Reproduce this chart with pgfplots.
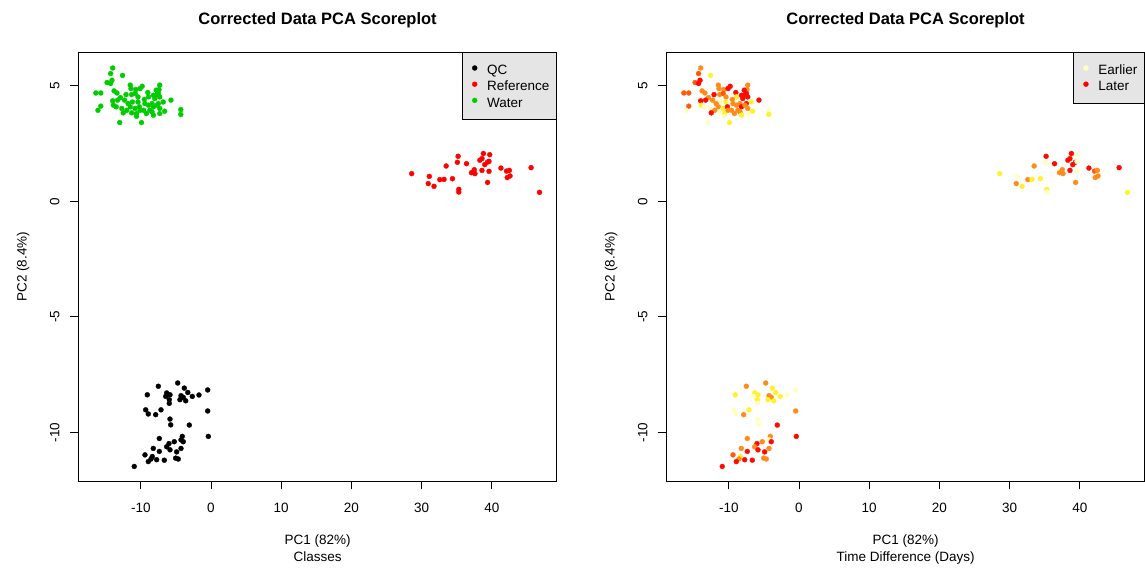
\documentclass[border=0pt]{standalone}
\usepackage{pgfplots}
\pgfplotsset{compat=1.18}
\usepackage{pgfplotstable}
\usepackage{fontspec}
\setmainfont{Liberation Sans}
\definecolor{rgreen}{HTML}{00CD00}
\definecolor{rred}{HTML}{FF0000}
\definecolor{legbg}{HTML}{E5E5E5}
\definecolor{ca}{HTML}{FFFFC4}
\definecolor{cb}{HTML}{FFF22E}
\definecolor{cc}{HTML}{FF8C1A}
\definecolor{cd}{HTML}{FF5A0A}
\definecolor{ce}{HTML}{FF0A00}
\newcommand\fsz{\fontsize{13.5bp}{16.5bp}\selectfont}

\pgfplotstableread{
x y c
-14.0 5.77 c
-14.3 5.53 d
-12.6 5.45 b
-14.8 5.14 d
-14.3 5.10 e
-14.1 5.24 e
-16.4 4.69 d
-15.7 4.69 d
-13.8 4.78 c
-13.4 4.69 c
-11.5 5.03 c
-11.4 4.88 c
-10.7 4.84 c
-10.1 4.88 e
-9.8 4.98 e
-7.3 5.03 c
-7.4 4.84 c
-7.8 4.81 e
-9.0 4.71 e
-12.1 4.62 e
-12.9 4.49 c
-11.3 4.62 c
-10.8 4.67 d
-10.4 4.52 c
-8.9 4.52 b
-8.2 4.59 e
-7.7 4.62 e
-7.3 4.52 e
-8.0 4.45 e
-14.0 4.35 e
-13.3 4.38 e
-5.7 4.38 e
-6.8 4.30 b
-7.5 4.23 e
-8.4 4.23 c
-9.4 4.23 c
-10.4 4.30 b
-11.2 4.30 a
-11.8 4.23 c
-12.3 4.38 c
-13.9 4.16 b
-13.5 4.09 a
-15.7 4.12 d
-16.1 3.94 a
-12.7 4.02 a
-12.0 3.94 c
-11.5 4.09 c
-10.8 4.02 b
-10.2 4.09 e
-9.6 3.94 c
-8.9 4.16 c
-8.2 4.09 e
-7.7 4.16 c
-7.3 4.02 c
-6.6 3.90 b
-8.4 3.87 c
-9.2 3.80 c
-10.6 3.80 b
-11.3 3.83 a
-12.5 3.83 e
-8.2 3.73 b
-7.3 3.80 a
-10.6 3.68 a
-4.3 3.97 a
-4.3 3.76 b
-13.0 3.41 a
-9.9 3.41 b
-10.1 3.94 c
-9.5 4.41 c
-8.7 3.94 c
-7.5 4.67 e
}\water

\pgfplotstableread{
x y c
-4.74 -7.86 c
-7.5 -8.0 c
-3.8 -8.08 b
-3.3 -8.27 b
-2.66 -8.44 b
-1.71 -8.38 a
-0.47 -8.16 a
-6.31 -8.29 b
-5.84 -8.37 b
-6.45 -8.44 a
-4.27 -8.41 c
-3.95 -8.48 c
-4.42 -8.58 b
-3.6 -8.63 b
-5.94 -8.58 b
-5.94 -8.74 a
-9.07 -8.37 b
-9.3 -9.02 a
-8.93 -9.20 a
-7.88 -9.23 c
-7.12 -9.02 b
-0.47 -9.07 c
-5.84 -9.42 a
-5.74 -9.67 a
-3.09 -9.68 e
-0.38 -10.17 e
-7.36 -10.26 c
-4.09 -10.17 c
-4.27 -10.32 a
-3.95 -10.4 e
-5.23 -10.4 c
-5.98 -10.48 e
-6.31 -10.62 c
-5.84 -10.75 e
-4.27 -10.69 c
-4.89 -10.84 e
-8.22 -10.69 c
-7.36 -10.82 e
-9.4 -10.97 d
-8.36 -11.04 b
-8.55 -11.15 c
-8.93 -11.26 e
-7.74 -11.18 e
-6.65 -11.2 e
-5.03 -11.11 c
-4.66 -11.15 c
-10.93 -11.47 e
}\qc

\pgfplotstableread{
x y c
28.59 1.20 b
31.1 1.08 a
30.95 0.77 c
31.77 0.65 b
32.6 0.94 c
33.2 0.95 b
33.5 1.53 c
34.4 0.98 b
35.2 1.95 e
35.1 1.69 a
35.3 0.52 b
35.3 0.40 a
36.4 1.63 e
37.1 1.24 c
37.5 1.37 c
37.6 1.20 c
38.3 1.78 e
38.6 1.85 e
38.8 2.07 e
38.6 1.34 e
39.0 1.59 e
39.4 1.70 e
39.6 1.73 a
39.7 2.02 a
39.6 1.30 a
39.4 0.82 c
41.3 1.44 e
42.1 1.31 d
42.5 1.34 c
42.2 1.03 c
42.6 1.10 c
45.6 1.46 e
46.8 0.39 b
}\refd

\pgfplotsset{
  rstyle/.style={
    scale only axis, width=478.5bp, height=428.7bp,
    xmin=-18.9, xmax=49.26, ymin=-12.1, ymax=6.45,
    axis line style={line width=0.9bp, black},
    every tick/.style={line width=0.9bp, black},
    tick align=outside, major tick length=8.3bp, tick pos=left,
    xtick={-10,0,10,20,30,40}, xticklabels={-10,0,10,20,30,40},
    ytick={-10,-5,0,5}, yticklabels={-10,-5,0,5},
    xticklabel style={font=\fsz, anchor=base, inner sep=0pt},
    xticklabel shift=23.4bp,
    yticklabel style={font=\fsz, rotate=90, anchor=base, inner sep=0pt},
    yticklabel shift=10.7bp,
    every axis title/.style={at={(axis description cs:0.5,1)}, anchor=base, yshift=27.3bp,
      font=\bfseries\fontsize{16.5bp}{18bp}\selectfont},
    every axis x label/.style={at={(axis description cs:0.5,0)}, anchor=north, inner sep=0pt,
      align=center, yshift=-53.6bp, font=\fsz},
    every axis y label/.style={at={(axis description cs:-0.1078,0.5)}, rotate=90, anchor=base,
      inner sep=0pt, font=\fsz},
    title={Corrected Data PCA Scoreplot},
    ylabel={PC2 (8.4\%)},
    mark size=2.5bp,
    legend cell align=left,
    legend image code/.code={\path (0bp,0bp) (10bp,0bp);
      \draw[mark repeat=2,mark phase=2,#1] plot coordinates {(0bp,1.8bp) (5bp,1.8bp) (10bp,1.8bp)};},
    legend style={at={(1,1)}, anchor=north east, draw=black, line width=0.8bp, fill=legbg,
      inner xsep=7bp, inner ysep=9bp, font=\fsz, row sep=0pt,
      nodes={inner sep=0pt, text height=13bp, text depth=3.2bp},
      /tikz/every odd column/.append style={column sep=7bp}},
  }
}

\begin{document}
\begin{tikzpicture}
\path[use as bounding box] (0,0) rectangle (1145bp,570bp);
\clip (0,0) rectangle (1145bp,570bp);
\begin{axis}[rstyle, at={(78.3bp,89bp)}, anchor=south west,
  xlabel={PC1 (82\%)\\Classes}]
\addplot[only marks, mark=*, black, mark options={line width=0.3bp}] table[x=x,y=y]{\qc};
\addlegendentry{QC}
\addplot[only marks, mark=*, rred, mark options={line width=0.3bp}] table[x=x,y=y]{\refd};
\addlegendentry{Reference}
\addplot[only marks, mark=*, rgreen, mark options={line width=0.3bp}] table[x=x,y=y]{\water};
\addlegendentry{Water}
\end{axis}
\begin{axis}[rstyle, at={(666.3bp,89bp)}, anchor=south west,
  xlabel={PC1 (82\%)\\Time Difference (Days)}]
\addlegendimage{only marks, mark=*, ca, mark options={line width=0.3bp}}
\addlegendentry{Earlier}
\addlegendimage{only marks, mark=*, rred, mark options={line width=0.3bp}}
\addlegendentry{Later}
\pgfplotsset{rscatter/.style={scatter, only marks, mark=*, scatter src=explicit symbolic, forget plot,
  mark options={line width=0.3bp},
  scatter/classes={a={ca}, b={cb}, c={cc}, d={cd}, e={ce}}}}
\addplot[rscatter] table[x=x,y=y,meta=c]{\water};
\addplot[rscatter] table[x=x,y=y,meta=c]{\qc};
\addplot[rscatter] table[x=x,y=y,meta=c]{\refd};
\end{axis}
\end{tikzpicture}
\end{document}
